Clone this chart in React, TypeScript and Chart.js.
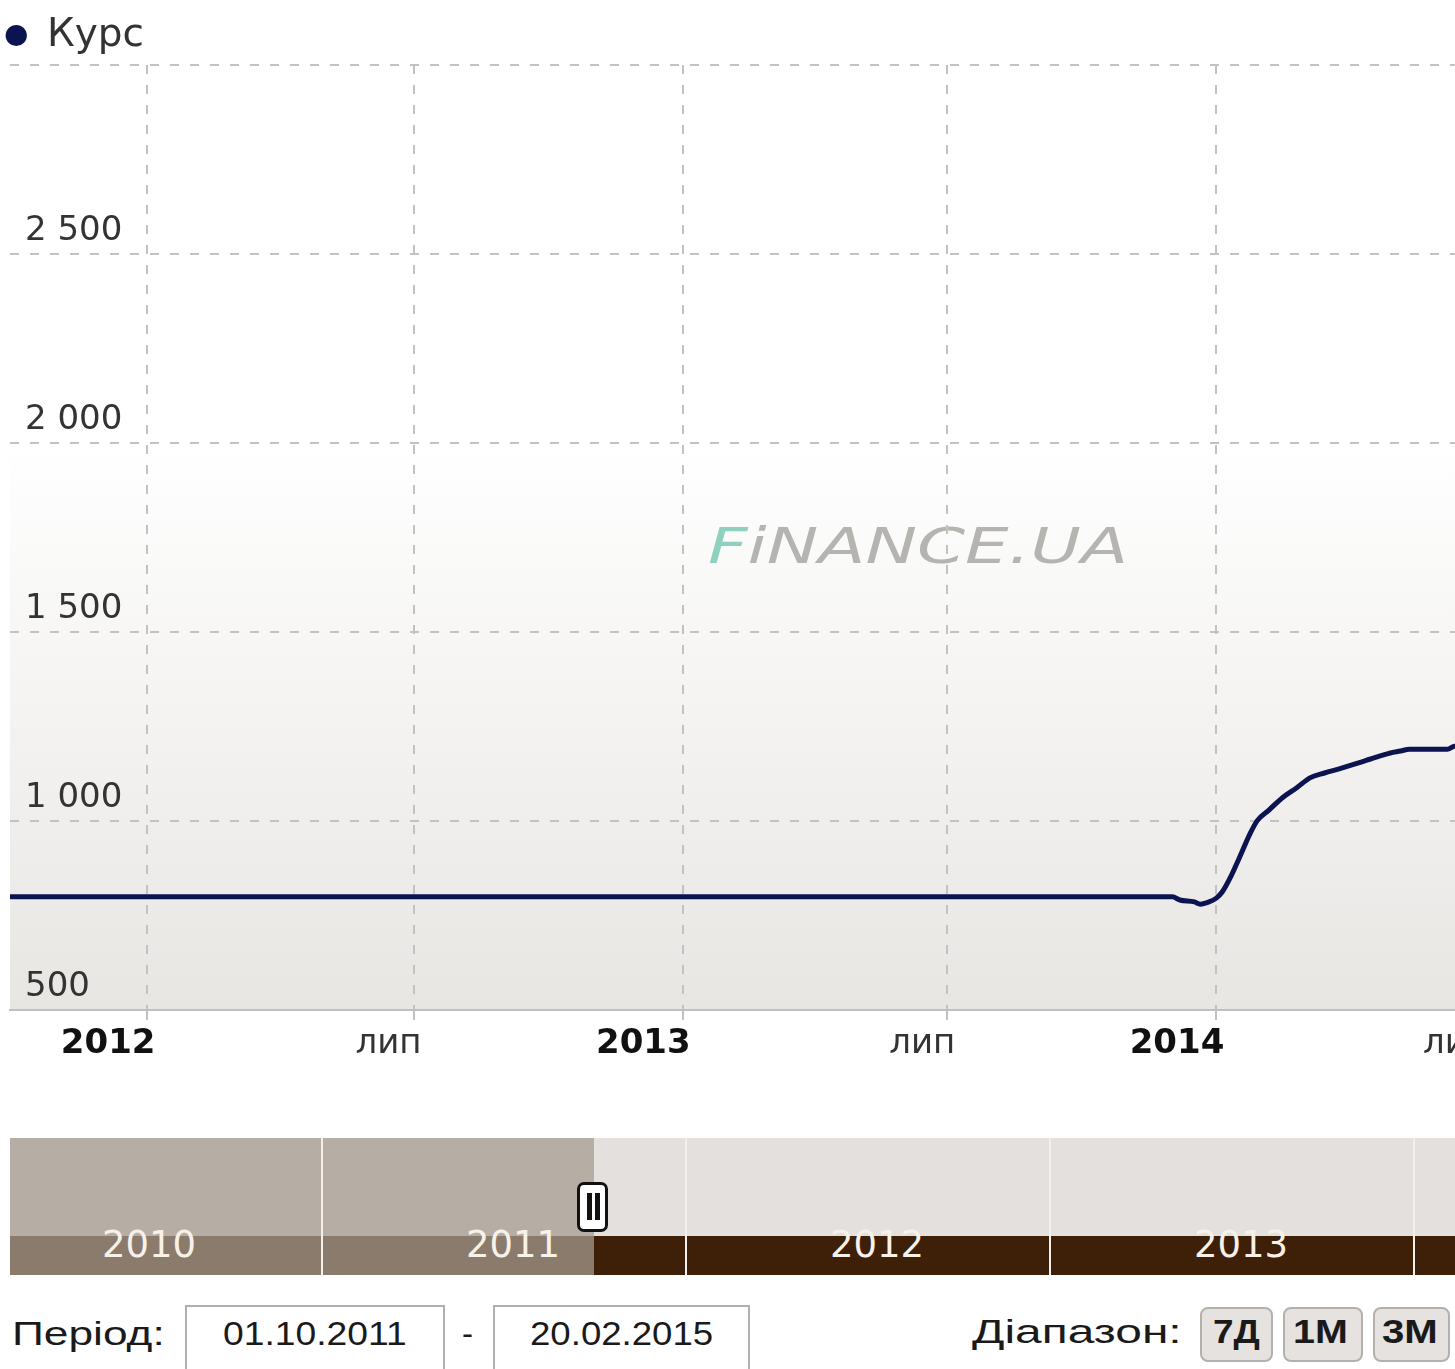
import React, { useEffect, useLayoutEffect, useRef, useState } from 'react';
import { Chart, registerables } from 'chart.js';

Chart.register(...registerables);

// ---------- data ----------
const seriesLabel = 'Курс';
// days counted from 01.01.2012
const dayOffsets = [
  -94, -62, -31, 0, 31, 60, 91, 121, 152, 182, 213, 244, 274, 305, 335,
  366, 397, 425, 456, 486, 517, 547, 578, 609, 639, 670, 701,
  706, 716, 720, 726, 731, 735, 740, 747, 754, 759, 767, 776, 786, 795,
  805, 815, 826, 834, 843, 850, 857, 863, 877, 889, 894, 910, 925,
];
const rates = [
  799.3, 799.3, 799.3, 799.3, 799.3, 799.3, 799.3, 799.3, 799.3, 799.3, 799.3, 799.3, 799.3, 799.3, 799.3,
  799.3, 799.3, 799.3, 799.3, 799.3, 799.3, 799.3, 799.3, 799.3, 799.3, 799.3, 799.3,
  791, 786, 780, 786, 796, 812, 846, 905, 966, 1001, 1029, 1061, 1088, 1114,
  1127, 1138, 1151, 1161, 1172, 1180, 1185, 1190, 1190, 1190, 1198, 1200, 1200,
];
const xMin = -94;
const xMax = 925;
const xTickDays = [0, 182, 366, 547, 731, 912];
const xTickLabels = ['2012', 'лип', '2013', 'лип', '2014', 'лип'];
const xTickIsYear = [true, false, true, false, true, false];
const yMin = 500;
const yMax = 3000;
const yStep = 500;
const navigatorYears = ['2010', '2011', '2012', '2013'];
const periodLabel = 'Період:';
const periodFrom = '01.10.2011';
const periodTo = '20.02.2015';
const rangeLabel = 'Діапазон:';
const rangeButtons = ['7Д', '1М', '3М'];
const watermarkHead = 'F';
const watermarkTail = 'iNANCE.UA';

const GRID = '#c2c2c2';
const DASH = [9, 11];

function formatY(v: number) {
  if (v >= yMax) return '';
  const s = String(Math.round(v));
  return s.length > 3 ? s.slice(0, s.length - 3) + ' ' + s.slice(-3) : s;
}

const bgPlugin = {
  id: 'bgAndWatermark',
  beforeDraw(chart: any) {
    const { ctx, chartArea: a } = chart;
    ctx.save();
    ctx.fillStyle = '#ffffff';
    ctx.fillRect(0, 0, chart.width, chart.height);
    const g = ctx.createLinearGradient(0, a.top, 0, a.bottom);
    g.addColorStop(0, '#ffffff');
    g.addColorStop(0.4, '#ffffff');
    g.addColorStop(1, '#e8e6e3');
    ctx.fillStyle = g;
    ctx.fillRect(a.left, a.top, a.right - a.left, a.bottom - a.top);
    // watermark
    ctx.font = 'italic 49px "DejaVu Sans"';
    ctx.textBaseline = 'alphabetic';
    const wHead = ctx.measureText(watermarkHead).width;
    const wTail = ctx.measureText(watermarkTail).width;
    const target = 420;
    const sx = target / (wHead + wTail);
    ctx.translate(a.left + 698, a.top + 498);
    ctx.scale(sx, 1);
    ctx.fillStyle = '#8fd0bf';
    ctx.fillText(watermarkHead, 0, 0);
    ctx.fillStyle = '#b6b4b1';
    ctx.fillText(watermarkTail, wHead, 0);
    ctx.restore();
  },
};

function FitText(props: {
  text: string; left: number; baseline: number; width: number; size: number;
  family: string; weight?: string; color?: string;
}) {
  const { text, left, baseline, width, size, family, weight = 'normal', color = '#222' } = props;
  const ref = useRef<HTMLSpanElement>(null);
  const [sx, setSx] = useState(1);
  useLayoutEffect(() => {
    const measure = () => {
      const el = ref.current;
      if (!el) return;
      const w = el.offsetWidth;
      if (w > 0) setSx(width / w);
    };
    measure();
    const f = (document as any).fonts;
    if (f && f.ready) f.ready.then(measure);
  }, [text, width, size, family, weight]);
  return (
    <span
      ref={ref}
      style={{
        position: 'absolute', left, top: baseline - size * 0.846, fontSize: size,
        lineHeight: `${size}px`, fontFamily: family, fontWeight: weight as any, color,
        whiteSpace: 'nowrap', display: 'inline-block', transform: `scaleX(${sx})`,
        transformOrigin: '0 0',
      }}
    >
      {text}
    </span>
  );
}

function RateChart() {
  const ref = useRef<HTMLCanvasElement>(null);
  useEffect(() => {
    if (!ref.current) return;
    const points = dayOffsets.map((d, i) => ({ x: d, y: rates[i] }));
    const chart = new Chart(ref.current, {
      type: 'line',
      data: {
        datasets: [
          {
            label: seriesLabel,
            data: points,
            borderColor: '#0b1450',
            backgroundColor: '#0b1450',
            borderWidth: 5,
            pointRadius: 0,
            pointHoverRadius: 0,
            pointStyle: 'circle',
            cubicInterpolationMode: 'monotone',
            fill: false,
          } as any,
        ],
      },
      options: {
        responsive: false,
        animation: false,
        events: [],
        layout: { padding: 0 },
        plugins: {
          legend: {
            display: true,
            position: 'top',
            align: 'start',
            labels: {
              usePointStyle: true,
              pointStyle: 'circle',
              boxWidth: 22.5,
              boxHeight: 15,
              padding: 5,
              color: '#333333',
              font: { family: 'DejaVu Sans', size: 39 },
              generateLabels: (c: any) =>
                (Chart.defaults.plugins.legend.labels as any)
                  .generateLabels(c)
                  .map((l: any) => ({ ...l, lineWidth: 0 })),
            },
          },
          tooltip: { enabled: false },
        },
        scales: {
          x: {
            type: 'linear',
            min: xMin,
            max: xMax,
            afterBuildTicks: (s: any) => {
              s.ticks = xTickDays.map((v) => ({ value: v }));
            },
            afterFit: (s: any) => {
              s.height = 60;
            },
            grid: {
              color: GRID,
              lineWidth: 2,
              drawTicks: true,
              tickLength: 15,
              tickColor: GRID,
              tickWidth: 2,
              tickBorderDash: DASH,
            } as any,
            border: { display: true, color: '#bfbfbf', width: 2, dash: DASH } as any,
            ticks: {
              autoSkip: false,
              maxRotation: 0,
              align: 'end',
              labelOffset: 8,
              padding: 2,
              callback: (_v: any, i: number) => xTickLabels[i],
              font: (c: any) => ({
                family: 'DejaVu Sans',
                size: 34,
                lineHeight: 1,
                weight: xTickIsYear[c.index] ? 'bold' : 'normal',
              }),
              color: (c: any) => (xTickIsYear[c.index] ? '#111111' : '#333333'),
            } as any,
          },
          y: {
            type: 'linear',
            min: yMin,
            max: yMax,
            afterFit: (s: any) => {
              s.width = 10;
              s.paddingTop = 65;
            },
            grid: { color: GRID, lineWidth: 2, drawTicks: false } as any,
            border: { display: false, dash: DASH } as any,
            ticks: {
              stepSize: yStep,
              mirror: true,
              padding: 15,
              labelOffset: -23,
              color: '#333333',
              font: { family: 'DejaVu Sans', size: 34, lineHeight: 1 },
              callback: (v: any) => formatY(Number(v)),
            } as any,
          },
        },
      } as any,
      plugins: [bgPlugin],
    });
    return () => chart.destroy();
  }, []);
  return (
    <canvas
      ref={ref}
      width={1500}
      height={1070}
      style={{ position: 'absolute', left: 0, top: 0, width: 1500, height: 1070 }}
    />
  );
}

export default function App() {
  const navTop = 1138;
  const navSplit = 1236;
  const navBottom = 1275;
  const handleX = 594;
  const yearW = 364;
  const yearStart = -42;
  const sans = '"Liberation Sans", Arial, sans-serif';
  const btnBoxes = [
    { l: 1200, r: 1273, tl: 1213, tw: 47 },
    { l: 1283, r: 1363, tl: 1293, tw: 55 },
    { l: 1373, r: 1450, tl: 1382, tw: 56 },
  ];
  return (
    <div
      style={{
        position: 'absolute', left: 0, top: 0, width: 1455, height: 1369,
        overflow: 'hidden', background: '#ffffff',
      }}
    >
      <RateChart />

      {/* navigator */}
      <div style={{ position: 'absolute', left: 10, top: navTop, width: handleX - 10, height: navSplit - navTop, background: '#b6ada4' }} />
      <div style={{ position: 'absolute', left: handleX, top: navTop, width: 1460 - handleX, height: navSplit - navTop, background: '#e3e0dd' }} />
      <div style={{ position: 'absolute', left: 10, top: navSplit, width: handleX - 10, height: navBottom - navSplit, background: '#8b7b6d' }} />
      <div style={{ position: 'absolute', left: handleX, top: navSplit, width: 1460 - handleX, height: navBottom - navSplit, background: '#3e1f07' }} />
      {navigatorYears.map((_, i) => (
        <div
          key={'sep' + i}
          style={{ position: 'absolute', left: yearStart + yearW * (i + 1) - 1, top: navTop, width: 2, height: navBottom - navTop, background: '#f3efeb' }}
        />
      ))}
      {navigatorYears.map((y, i) => (
        <FitText
          key={'yr' + y}
          text={y}
          left={yearStart + yearW * i + 191 - 47}
          baseline={1257}
          width={94}
          size={37}
          family='"DejaVu Sans", sans-serif'
          color='#f7f1e8'
        />
      ))}
      <div
        style={{
          position: 'absolute', left: 577, top: 1182, width: 31, height: 50,
          boxSizing: 'border-box', border: '3px solid #111', borderRadius: 7, background: '#ffffff',
        }}
      />
      <div style={{ position: 'absolute', left: 587, top: 1193, width: 5, height: 27, background: '#111' }} />
      <div style={{ position: 'absolute', left: 595, top: 1193, width: 5, height: 27, background: '#111' }} />

      {/* period row */}
      <FitText text={periodLabel} left={12} baseline={1345} width={153} size={33} family={sans} color='#1a1a1a' />
      <div style={{ position: 'absolute', left: 185, top: 1305, width: 260, height: 90, boxSizing: 'border-box', border: '2px solid #b0b0b0', background: '#fff' }} />
      <FitText text={periodFrom} left={223} baseline={1345} width={184} size={33} family={sans} color='#1a1a1a' />
      <FitText text='-' left={462} baseline={1345} width={11} size={33} family={sans} color='#1a1a1a' />
      <div style={{ position: 'absolute', left: 493, top: 1305, width: 257, height: 90, boxSizing: 'border-box', border: '2px solid #b0b0b0', background: '#fff' }} />
      <FitText text={periodTo} left={530} baseline={1345} width={183} size={33} family={sans} color='#1a1a1a' />

      <FitText text={rangeLabel} left={972} baseline={1343} width={210} size={34} family={sans} color='#1a1a1a' />
      {rangeButtons.map((b, i) => (
        <React.Fragment key={b}>
          <div
            style={{
              position: 'absolute', left: btnBoxes[i].l, top: 1307, width: btnBoxes[i].r - btnBoxes[i].l,
              height: 55, boxSizing: 'border-box', border: '2px solid #b4b1ad', borderRadius: 8,
              background: '#e5e2df',
            }}
          />
          <FitText text={b} left={btnBoxes[i].tl} baseline={1343} width={btnBoxes[i].tw} size={33} family={sans} weight='bold' color='#1a1a1a' />
        </React.Fragment>
      ))}
    </div>
  );
}
